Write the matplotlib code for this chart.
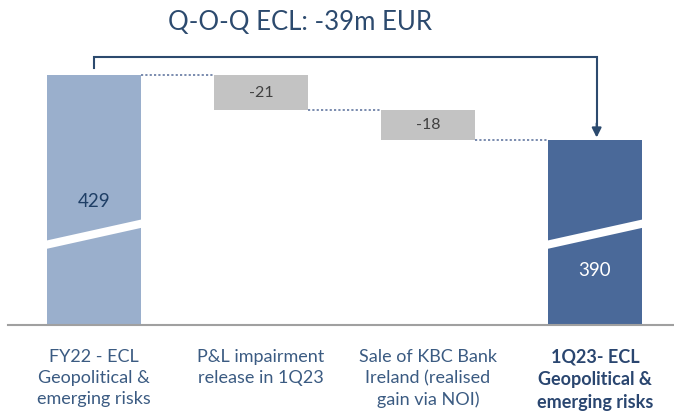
import matplotlib.pyplot as plt
from matplotlib.patches import Polygon

# data
categories = ["FY22 - ECL\nGeopolitical &\nemerging risks",
              "P&L impairment\nrelease in 1Q23",
              "Sale of KBC Bank\nIreland (realised\ngain via NOI)",
              "1Q23- ECL\nGeopolitical &\nemerging risks"]
start_value = 429
deltas = [-21, -18]
end_value = start_value + sum(deltas)
title = "Q-O-Q ECL: -39m EUR"

plt.rcParams['font.family'] = ['Lato', 'DejaVu Sans']

light_blue = '#9AAFCC'
dark_blue = '#4A6999'
grey = '#C3C3C3'
navy = '#2C4A6E'
label_col = '#3B5B82'

fig = plt.figure(figsize=(6.74, 4.12), dpi=100)
ax = fig.add_axes([8 / 674, 87 / 412, 666 / 674, 285 / 412])

ymin, ymax = 279, 450
width = 0.565

# totals
ax.bar(0, start_value, width, color=light_blue, zorder=2)
ax.bar(3, end_value, width, color=dark_blue, zorder=2)

# deltas
level = start_value
prev_right = 0 + width / 2
for i, d in enumerate(deltas, start=1):
    ax.bar(i, d, width, bottom=level, color=grey, zorder=2)
    ax.text(i, level + d / 2, f"{d}", ha='center', va='center',
            fontsize=11.5, color='#404040', zorder=3)
    ax.plot([prev_right, i - width / 2], [level, level], ls=(0, (1.2, 1.2)),
            color='#6F82A8', lw=1.3, zorder=1)
    level += d
    prev_right = i + width / 2
ax.plot([prev_right, 3 - width / 2], [level, level], ls=(0, (1.2, 1.2)),
        color='#6F82A8', lw=1.3, zorder=1)

# axis break slashes on the total bars
for x in (0, 3):
    xl, xr = x - width / 2 - 0.01, x + width / 2 + 0.01
    poly = Polygon([(xl, 324.5), (xr, 337.5), (xr, 342.5), (xl, 329.5)],
                   closed=True, facecolor='white', edgecolor='none', zorder=4)
    ax.add_patch(poly)

ax.text(0, 353, f"{start_value}", ha='center', va='center', fontsize=13.5,
        color='#1F3F66', zorder=5)
ax.text(3, 312, f"{end_value}", ha='center', va='center', fontsize=13.5,
        color='white', zorder=5)

# bracket arrow from first to last bar
ax.plot([0, 0, 3.01, 3.01], [433, 440, 440, 398], color=navy, lw=1.5,
        zorder=3, solid_joinstyle='miter')
ax.annotate('', xy=(3.01, 391.5), xytext=(3.01, 400),
            arrowprops=dict(arrowstyle='-|>', color=navy, lw=1.5,
                            mutation_scale=14, shrinkA=0, shrinkB=0))

ax.set_xlim(-86 / 167, 580 / 167)
ax.set_ylim(ymin, ymax)
for s in ('top', 'right', 'left'):
    ax.spines[s].set_visible(False)
ax.spines['bottom'].set_color('#A0A0A0')
ax.spines['bottom'].set_linewidth(1.5)
ax.set_yticks([])
ax.set_xticks(range(len(categories)))
ax.set_xticklabels(categories, fontsize=13.0, color=label_col, linespacing=1.4)
ax.tick_params(axis='x', length=0, pad=17)
ax.get_xticklabels()[-1].set_fontweight('bold')
ax.get_xticklabels()[-1].set_color('#2A4670')

fig.text(300 / 674, 1 - 22 / 412, title, ha='center', va='center',
         fontsize=18.5, color=navy)

plt.savefig('out.png', dpi=100)
